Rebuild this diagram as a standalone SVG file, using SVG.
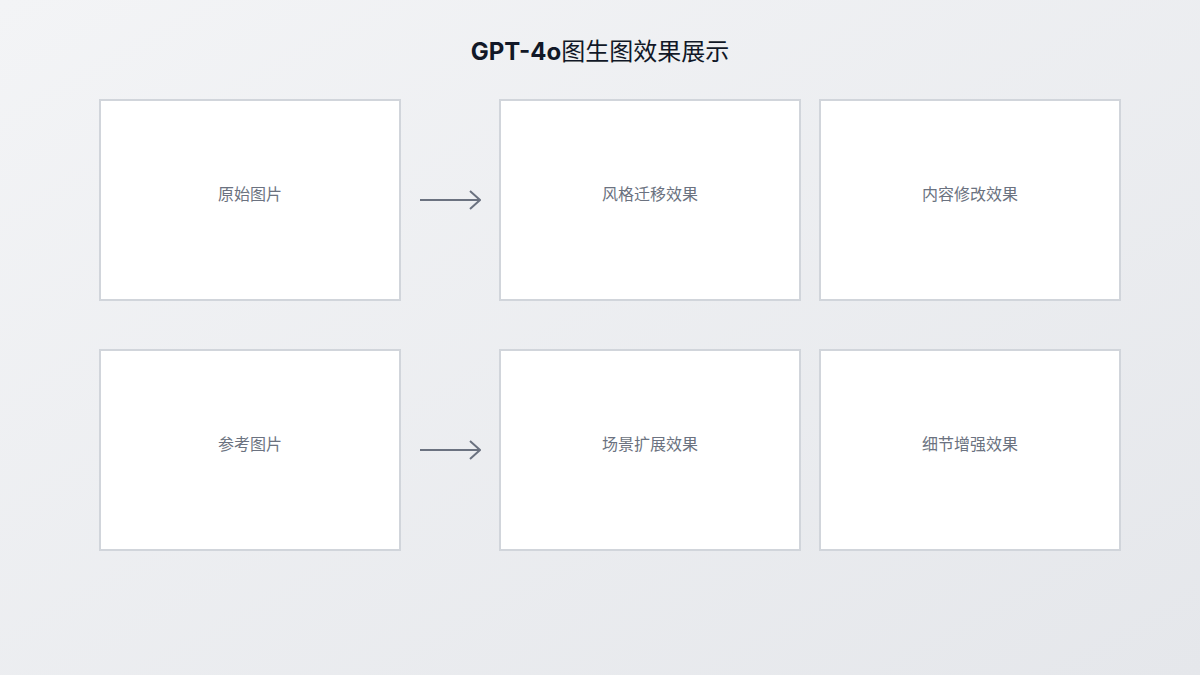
<svg xmlns="http://www.w3.org/2000/svg" width="1200" height="675" viewBox="0 0 1200 675">
<defs>
<linearGradient id="bg" x1="0" y1="0" x2="1" y2="1"><stop offset="0" stop-color="#f3f4f6"/><stop offset="1" stop-color="#e5e7eb"/></linearGradient>
<marker id="ah" viewBox="0 0 12 20" refX="11" refY="10" markerWidth="12" markerHeight="20" markerUnits="userSpaceOnUse" orient="auto"><path d="M1 1 L11 10 L1 19" fill="none" stroke="#6b7280" stroke-width="2"/></marker>
</defs>
<style>
.box{fill:#fff;stroke:#d1d5db;stroke-width:2}
.lbl{font-family:Inter,"Noto Sans CJK SC",sans-serif;font-size:16px;fill:#6b7280;text-anchor:middle}
.c{stroke:#6b7280;stroke-width:2;fill:none}
</style>
<rect width="1200" height="675" fill="url(#bg)"/>
<text x="600" y="60" text-anchor="middle" font-family="Inter,'Noto Sans CJK SC',sans-serif" font-size="24" fill="#111827"><tspan font-weight="bold">GPT-4o</tspan>图生图效果展示</text>
<g id="n1"><rect class="box" x="100" y="100" width="300" height="200"/><text class="lbl" x="250" y="200">原始图片</text></g>
<g id="n2"><rect class="box" x="500" y="100" width="300" height="200"/><text class="lbl" x="650" y="200">风格迁移效果</text></g>
<g id="n3"><rect class="box" x="820" y="100" width="300" height="200"/><text class="lbl" x="970" y="200">内容修改效果</text></g>
<g id="n4"><rect class="box" x="100" y="350" width="300" height="200"/><text class="lbl" x="250" y="450">参考图片</text></g>
<g id="n5"><rect class="box" x="500" y="350" width="300" height="200"/><text class="lbl" x="650" y="450">场景扩展效果</text></g>
<g id="n6"><rect class="box" x="820" y="350" width="300" height="200"/><text class="lbl" x="970" y="450">细节增强效果</text></g>
<g id="connectors">
<line class="c" x1="420" y1="200" x2="480" y2="200" marker-end="url(#ah)"/>
<line class="c" x1="420" y1="450" x2="480" y2="450" marker-end="url(#ah)"/>
</g>
</svg>
